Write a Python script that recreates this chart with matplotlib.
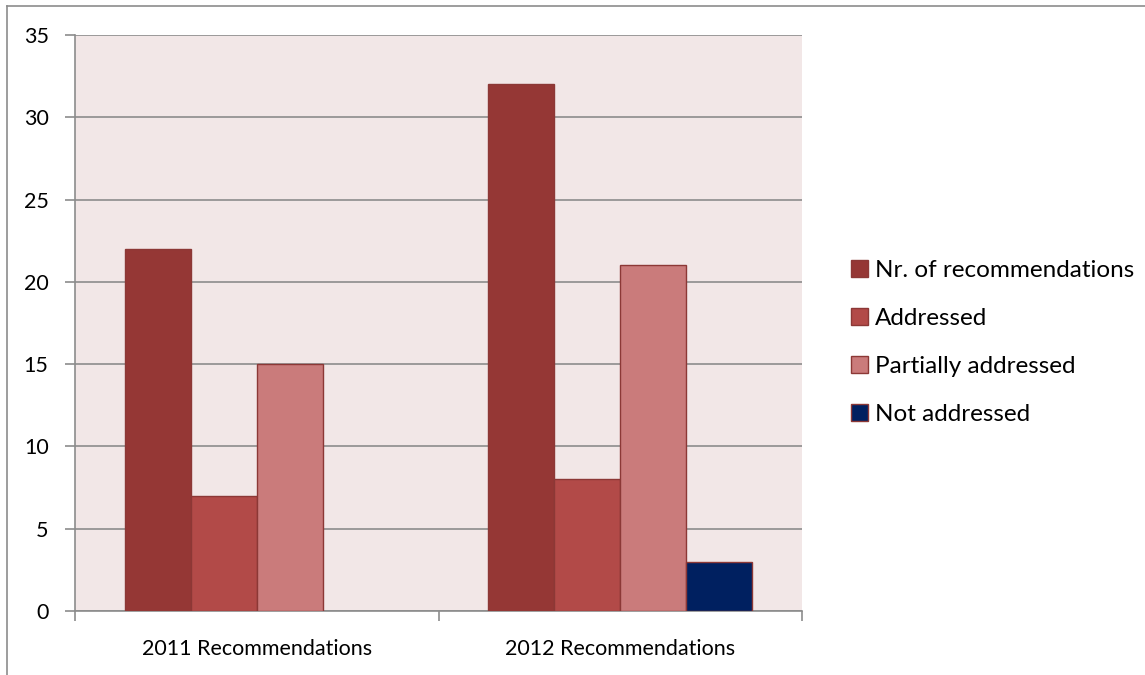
import numpy as np
import matplotlib
matplotlib.use('Agg')
import matplotlib.pyplot as plt
from matplotlib.lines import Line2D

plt.rcParams['font.family'] = ['Lato', 'DejaVu Sans']

categories = ['2011 Recommendations', '2012 Recommendations']
series_names = ['Nr. of recommendations', 'Addressed', 'Partially addressed', 'Not addressed']
nr_recommendations = [22, 32]
addressed = [7, 8]
partially_addressed = [15, 21]
not_addressed = [0, 3]
colors = ['#953735', '#B24A48', '#CA7B7B', '#002060']

values = [nr_recommendations, addressed, partially_addressed, not_addressed]

fig = plt.figure(figsize=(11.45, 6.75), dpi=100)
ax = fig.add_axes([75 / 1145, 1 - 611 / 675, 727 / 1145, 576 / 675])
ax.set_facecolor('#F2E7E7')

x = np.arange(len(categories))
w = 66 / 363.5
for i, (vals, c) in enumerate(zip(values, colors)):
    bars = ax.bar(x + (i - 1.5) * w, vals, width=w, color=c, edgecolor='#8C3836',
                  linewidth=1, label=series_names[i], zorder=3)
    for b, v in zip(bars, vals):
        if v == 0:
            b.set_linewidth(0)

ax.set_xlim(-0.5, 1.5)
ax.set_ylim(0, 35)
ax.set_yticks(range(0, 36, 5))
ax.yaxis.grid(True, color='#8C8C8C', linewidth=1.2, zorder=1)
ax.set_axisbelow(True)

ax.set_xticks(x)
ax.set_xticklabels(categories)
ax.set_xticks([-0.5, 0.5, 1.5], minor=True)
ax.tick_params(axis='x', which='major', length=0, pad=20, labelsize=15.5)
ax.tick_params(axis='x', which='minor', length=7, color='#8C8C8C', width=1.2)
ax.tick_params(axis='y', length=7, color='#8C8C8C', width=1.2, pad=12, labelsize=15.5)

for s in ['top', 'right']:
    ax.spines[s].set_visible(False)
for s in ['left', 'bottom']:
    ax.spines[s].set_color('#8C8C8C')
    ax.spines[s].set_linewidth(1.2)

handles = [plt.Rectangle((0, 0), 1, 1, fc=c, ec='#8C3836', lw=1) for c in colors]
fig.legend(handles, series_names, loc='upper left', bbox_to_anchor=(841 / 1145, 1 - 250 / 675),
           frameon=False, fontsize=17.5, handlelength=0.7, handleheight=0.7,
           handletextpad=0.3, labelspacing=1.12, borderaxespad=0)

# outer chart border (top and left visible)
fig.add_artist(Line2D([7 / 1145, 7 / 1145], [0, 1 - 6 / 675], transform=fig.transFigure,
                      color='#8C8C8C', lw=1.2))
fig.add_artist(Line2D([7 / 1145, 1], [1 - 6 / 675, 1 - 6 / 675], transform=fig.transFigure,
                      color='#8C8C8C', lw=1.2))

fig.savefig('out.png', dpi=100)
